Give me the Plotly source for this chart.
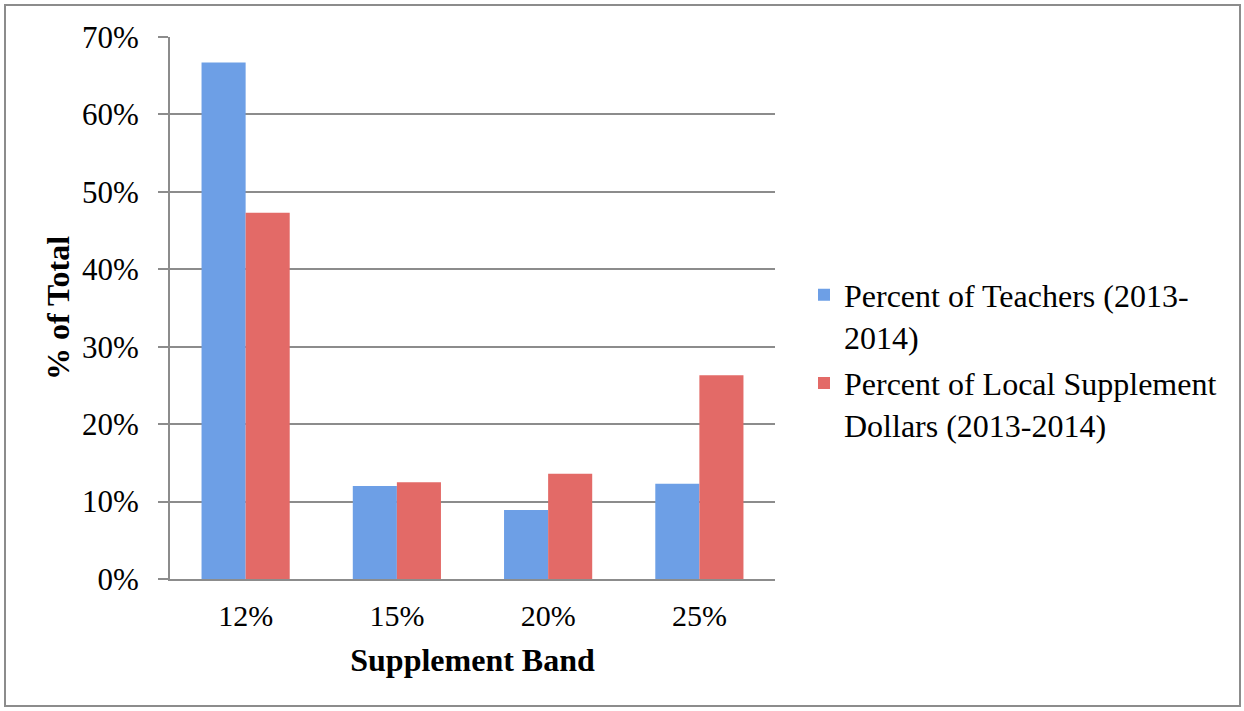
import plotly.graph_objects as go

categories = ["12%", "15%", "20%", "25%"]
teachers = [66.7, 12.0, 8.9, 12.3]
dollars = [47.3, 12.5, 13.6, 26.3]
series_names = ["Percent of Teachers (2013-<br>2014)", "Percent of Local Supplement<br>Dollars (2013-2014)"]
y_ticks = [0, 10, 20, 30, 40, 50, 60, 70]
y_ticktext = [f"{v}%" for v in y_ticks]

FONT = "Liberation Serif"

fig = go.Figure()
fig.add_trace(go.Bar(x=categories, y=teachers, name=series_names[0], legendgroup="a",
                     marker=dict(color="#6d9fe6", line=dict(width=0))))
fig.add_trace(go.Bar(x=categories, y=dollars, name=series_names[1], legendgroup="b",
                     marker=dict(color="#e36a67", line=dict(width=0))))

W, H = 1244, 711
L, R, T, B = 170, 469, 37, 132
pw, ph = W - L - R, H - T - B

def px(x):
    return (x - L) / pw

def py(y):
    return (H - B - y) / ph

fig.update_layout(
    width=W, height=H,
    margin=dict(l=L, r=R, t=T, b=B, autoexpand=False),
    paper_bgcolor="white", plot_bgcolor="white",
    font=dict(family=FONT, color="black", size=30),
    barmode="group", bargap=0.417, bargroupgap=0,
    showlegend=True,
    legend=dict(x=px(804), y=py(360), xanchor="left", yanchor="middle", valign="top",
                font=dict(family=FONT, size=32, color="black"), tracegroupgap=2,
                itemsizing="constant", bgcolor="rgba(0,0,0,0)"),
    xaxis=dict(
        type="category", showgrid=False, showline=True, linecolor="#8c8c8c", linewidth=2,
        ticks="", tickfont=dict(size=30, family=FONT, color="black"), ticklabelstandoff=9,
        title=dict(text="<b>Supplement Band</b>", font=dict(size=32, family=FONT, color="black"), standoff=18),
    ),
    yaxis=dict(
        range=[0, 70], tickvals=y_ticks, ticktext=y_ticktext,
        showgrid=True, gridcolor="#8c8c8c", gridwidth=2,
        showline=True, linecolor="#8c8c8c", linewidth=2,
        ticks="outside", ticklen=10, tickcolor="#8c8c8c", tickwidth=2,
        tickfont=dict(size=31, family=FONT, color="black"), zeroline=False, ticklabelstandoff=13,
        title=dict(text="<b>% of Total</b>", font=dict(size=32, family=FONT, color="black"), standoff=3),
    ),
    shapes=[dict(type="rect", xref="paper", yref="paper",
                 x0=px(5), x1=px(1240), y0=py(706), y1=py(5),
                 line=dict(color="#8c8c8c", width=2), fillcolor="rgba(0,0,0,0)", layer="below")],
)

fig.write_html("out.html", config={"displayModeBar": False},
               post_script="document.body.style.margin='0';")
